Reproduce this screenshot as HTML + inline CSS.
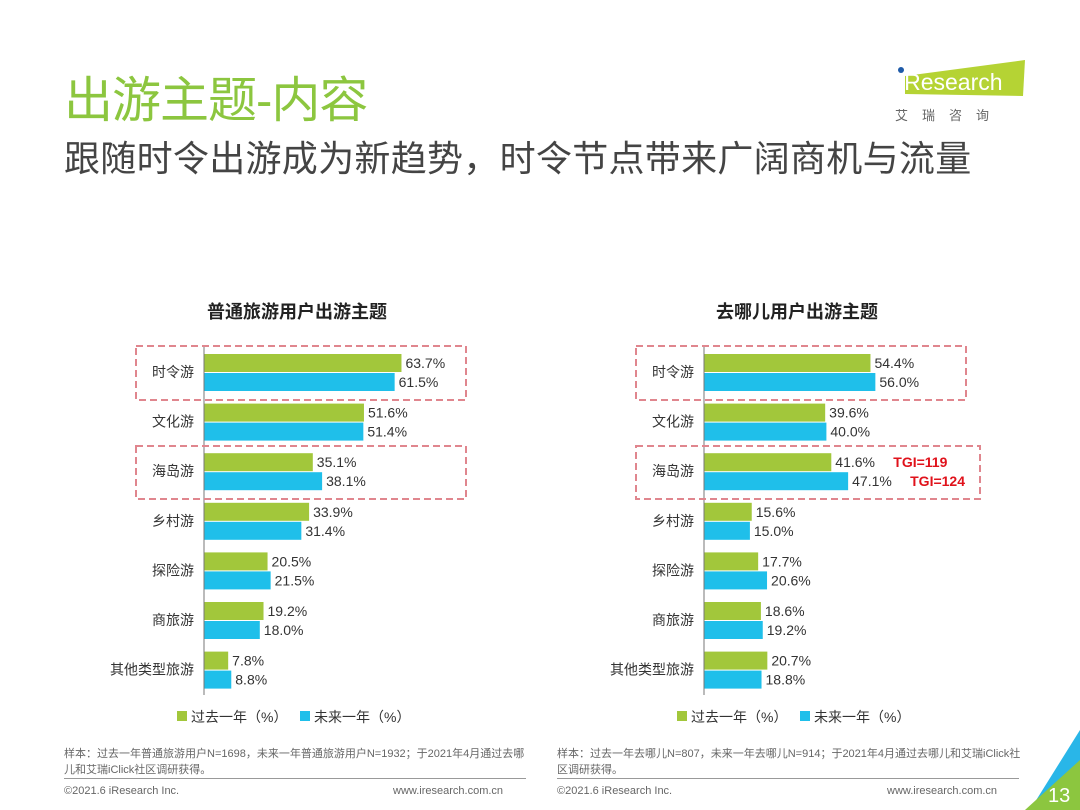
<!DOCTYPE html>
<html><head><meta charset="utf-8"><style>
body{margin:0;width:1080px;height:810px;background:#fff;overflow:hidden;font-family:"Liberation Sans","Noto Sans CJK SC",sans-serif;position:relative}
.abs{position:absolute}
</style></head><body>
<div class="abs" style="left:64px;top:61px;font-size:49px;color:#8CC63F;letter-spacing:-1px">出游主题-内容</div>
<div class="abs" style="left:64px;top:130px;font-size:36px;color:#444;letter-spacing:0.3px">跟随时令出游成为新趋势，时令节点带来广阔商机与流量</div>
<div class="abs" style="left:895px;top:58px;width:135px;height:70px">
<svg width="135" height="70"><polygon points="10,18 130,2 128,38 10,36" fill="#B5D334"/><circle cx="6" cy="12" r="3" fill="#1E5AA8"/><text x="4" y="32" font-size="23" fill="#fff" font-family="Liberation Sans">iResearch</text><text x="0" y="62" font-size="13" fill="#666" letter-spacing="14" font-family="Noto Sans CJK SC">艾瑞咨询</text></svg></div>
<svg class="abs" style="left:0;top:0" width="1080" height="810" id="chart"></svg>
<div class="abs" style="left:64px;top:746px;width:470px;font-size:11px;color:#666;line-height:16px">样本：过去一年普通旅游用户N=1698，未来一年普通旅游用户N=1932；于2021年4月通过去哪儿和艾瑞iClick社区调研获得。</div>
<div class="abs" style="left:557px;top:746px;width:470px;font-size:11px;color:#666;line-height:16px">样本：过去一年去哪儿N=807，未来一年去哪儿N=914；于2021年4月通过去哪儿和艾瑞iClick社区调研获得。</div>
<div class="abs" style="left:64px;top:778px;width:462px;height:1px;background:#999"></div>
<div class="abs" style="left:557px;top:778px;width:462px;height:1px;background:#999"></div>
<div class="abs" style="left:64px;top:785px;font-size:11px;color:#666">©2021.6 iResearch Inc.</div>
<div class="abs" style="left:393px;top:785px;font-size:11px;color:#666">www.iresearch.com.cn</div>
<div class="abs" style="left:557px;top:785px;font-size:11px;color:#666">©2021.6 iResearch Inc.</div>
<div class="abs" style="left:887px;top:785px;font-size:11px;color:#666">www.iresearch.com.cn</div>
<svg class="abs" style="left:1020px;top:730px" width="60" height="80"><polygon points="60,0 60,40 25,80 10,80" fill="#29B6E8"/><polygon points="60,30 60,80 5,80" fill="#8CC63F"/><text x="28" y="72" font-size="20" fill="#fff" font-family="Liberation Sans">13</text></svg>
<script>
const categories=["时令游","文化游","海岛游","乡村游","探险游","商旅游","其他类型旅游"];
const leftPast=[63.7,51.6,35.1,33.9,20.5,19.2,7.8];
const leftFuture=[61.5,51.4,38.1,31.4,21.5,18.0,8.8];
const rightPast=[54.4,39.6,41.6,15.6,17.7,18.6,20.7];
const rightFuture=[56.0,40.0,47.1,15.0,20.6,19.2,18.8];
const tgiLabels=["TGI=119","TGI=124"];
const svg=document.getElementById('chart');
const NS="http://www.w3.org/2000/svg";
function mk(t,a,txt){const e=document.createElementNS(NS,t);for(const k in a)e.setAttribute(k,a[k]);if(txt!=null)e.textContent=txt;svg.appendChild(e);return e;}
function drawChart(x0,scale,title,past,fut,name,tgi){
 const yc=i=>372+i*49.6;
 const t=mk('text',{x:x0+93,y:318,'text-anchor':'middle','font-size':18,'font-weight':'bold',fill:'#222'},title);
 
 categories.forEach((c,i)=>{
  const y=yc(i);
  const l=mk('text',{x:x0-10,y:y+5,'text-anchor':'end','font-size':14,fill:'#333'},c);
  
  const b1=mk('rect',{x:x0,y:y-18,width:past[i]*scale,height:18,fill:'#A2C73B'});
  
  const b2=mk('rect',{x:x0,y:y+1,width:fut[i]*scale,height:18,fill:'#1FBFEA'});
  
  const v1=mk('text',{x:x0+past[i]*scale+4,y:y-4,'font-size':14,fill:'#333'},past[i].toFixed(1)+'%');
  
  const v2=mk('text',{x:x0+fut[i]*scale+4,y:y+15,'font-size':14,fill:'#333'},fut[i].toFixed(1)+'%');
  
  if(tgi&&i===2){
   const a=mk('text',{x:x0+past[i]*scale+62,y:y-4,'font-size':14,'font-weight':'bold',fill:'#E0121B'},tgiLabels[0]);
   
   const b=mk('text',{x:x0+fut[i]*scale+62,y:y+15,'font-size':14,'font-weight':'bold',fill:'#E0121B'},tgiLabels[1]);
   
  }
 });
 const ax=mk('line',{x1:x0,x2:x0,y1:347,y2:695,stroke:'#777','stroke-width':1});
 
 const w2=tgi?344:330;
 const d1=mk('rect',{x:x0-68,y:346,width:330,height:54,fill:'none',stroke:'#E0868E','stroke-width':2,'stroke-dasharray':'7,4'});
 
 const d2=mk('rect',{x:x0-68,y:446,width:w2,height:53,fill:'none',stroke:'#E0868E','stroke-width':2,'stroke-dasharray':'7,4'});
 
 const lg=x0-27;
 const s1=mk('rect',{x:lg,y:711,width:10,height:10,fill:'#A2C73B'});
 
 mk('text',{x:lg+14,y:722,'font-size':14,fill:'#333'},'过去一年（%）');
 const s2=mk('rect',{x:lg+123,y:711,width:10,height:10,fill:'#1FBFEA'});
 
 mk('text',{x:lg+137,y:722,'font-size':14,fill:'#333'},'未来一年（%）');
}
drawChart(204,3.1,'普通旅游用户出游主题',leftPast,leftFuture,'left-chart',false);
drawChart(704,3.06,'去哪儿用户出游主题',rightPast,rightFuture,'right-chart',true);
</script>
</body></html>
